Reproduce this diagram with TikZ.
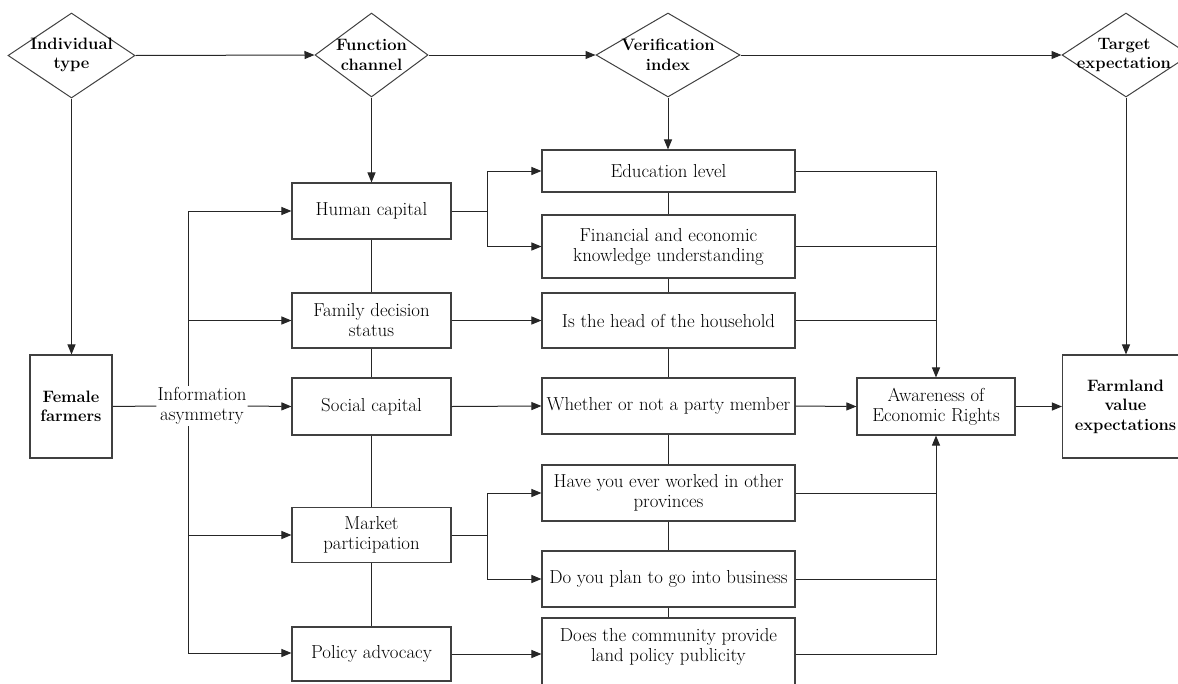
\documentclass[tikz,border=0pt]{standalone}
\usetikzlibrary{shapes.geometric,arrows.meta}
\begin{document}
\begin{tikzpicture}[x=1pt,y=-1pt,
  every node/.style={font=\fontsize{18.8}{20}\selectfont},
  rbox/.style={draw=black!75, line width=1.1pt, align=center, inner sep=0pt},
  dmd/.style={diamond, draw=black!75, line width=1pt, inner sep=0pt},
  bfont/.style={font=\fontsize{16.5}{19.5}\selectfont\bfseries},
  dtext/.style={align=center, bfont, inner sep=0pt},
  conn/.style={draw=black!85, line width=1pt},
  arr/.style={conn, -{Triangle[length=10pt,width=8pt]}}
]
\useasboundingbox (0,0) rectangle (1178,683);
% diamonds
\node[dmd, minimum width=127, minimum height=85] (ind) at (71.5,55.5) {};
\node[dtext] (indt) at (71.5,55) {Individual\\type};
\node[dmd, minimum width=113, minimum height=84] (func) at (371.5,55) {};
\node[dtext] (funct) at (371.5,55) {Function\\channel};
\node[dmd, minimum width=144, minimum height=84] (ver) at (668,55) {};
\node[dtext] (vert) at (668,55) {Verification\\index};
\node[dmd, minimum width=128, minimum height=84] (tar) at (1126,55) {};
\node[dtext] (tart) at (1124,55) {Target\\expectation};
% left
\node[rbox, minimum width=82, minimum height=103, bfont] (fem) at (71,406.5) {Female\\farmers};
% function column
\node[rbox, minimum width=159, minimum height=56] (hc) at (371.5,211) {Human capital};
\node[rbox, minimum width=159, minimum height=55] (fam) at (371.5,320.5) {Family decision\\status};
\node[rbox, minimum width=159, minimum height=57] (soc) at (371.5,406.5) {Social capital};
\node[rbox, minimum width=159, minimum height=55] (mkt) at (371.5,535) {Market\\participation};
\node[rbox, minimum width=159, minimum height=54] (pol) at (371.5,654) {Policy advocacy};
% verification column
\node[rbox, minimum width=253, minimum height=42] (edu) at (668.5,171) {Education level};
\node[rbox, minimum width=253, minimum height=63] (fin) at (668.5,246.5) {Financial and economic\\knowledge understanding};
\node[rbox, minimum width=253, minimum height=55] (head) at (668.5,320.5) {Is the head of the household};
\node[rbox, minimum width=253, minimum height=56] (party) at (668.5,406) {Whether or not a party member};
\node[rbox, minimum width=253, minimum height=56] (work) at (668.5,493) {Have you ever worked in other\\provinces};
\node[rbox, minimum width=253, minimum height=56] (plan) at (668.5,579) {Do you plan to go into business};
\node[rbox, minimum width=253, minimum height=68, text depth=14pt] (comm) at (668.5,652) {Does the community provide\\land policy publicity};
% right
\node[rbox, minimum width=158, minimum height=57] (aw) at (936,406.5) {Awareness of\\Economic Rights};
\node[rbox, minimum width=126, minimum height=103, bfont] (farm) at (1125.5,406.5) {Farmland\\value\\expectations};
% top arrows
\draw[arr] (ind.east) -- (func.west);
\draw[arr] (func.east) -- (ver.west);
\draw[arr] (ver.east) -- (tar.west);
\draw[arr] (ind.south) -- (ind.south |- fem.north);
\draw[arr] (func.south) -- (hc.north);
\draw[arr] (ver.south) -- (ver.south |- edu.north);
\draw[arr] (tar.south) -- (tar.south |- farm.north);
% vertical links
\draw[conn] (hc.south) -- (fam.north);
\draw[conn] (fam.south) -- (soc.north);
\draw[conn] (soc.south) -- (mkt.north);
\draw[conn] (mkt.south) -- (pol.north);
\draw[conn] (edu.south) -- (fin.north);
\draw[conn] (fin.south) -- (head.north);
\draw[conn] (head.south) -- (party.north);
\draw[conn] (party.south) -- (work.north);
\draw[conn] (work.south) -- (plan.north);
\draw[conn] (plan.south) -- (comm.north);
% left bus
\coordinate (bt) at (188,211);
\coordinate (bb) at (188,653);
\draw[conn] (bt) -- (bb);
\node[fill=white, inner sep=1pt, align=center] (info) at (202,406) {Information\\asymmetry};
\draw[conn] (fem.east) -- (info.west);
\draw[arr] (info.east) -- (soc.west);
\draw[arr] (bt) -- (hc.west);
\draw[arr] (bt |- fam.west) -- (fam.west);
\draw[arr] (bt |- mkt.west) -- (mkt.west);
\draw[arr] (bb) -- (bb -| pol.west);
% splits
\coordinate (s1) at (487,211);
\draw[conn] (hc.east) -- (s1);
\draw[arr] (s1) |- (edu.west);
\draw[arr] (s1) |- (fin.west);
\coordinate (s2) at (487,535);
\draw[conn] (mkt.east) -- (s2);
\draw[arr] (s2) |- (work.west);
\draw[arr] (s2) |- (plan.west);
\draw[arr] (fam.east) -- (head.west);
\draw[arr] (soc.east) -- (party.west);
\draw[arr] (pol.east) -- (pol.east -| comm.west);
% right bus
\draw[arr] (edu.east) -| (aw.north);
\draw[conn] (fin.east) -- (fin.east -| aw.north);
\draw[conn] (head.east) -- (head.east -| aw.north);
\draw[arr] (comm.east |- pol.east) -| (aw.south);
\draw[conn] (work.east) -- (work.east -| aw.south);
\draw[conn] (plan.east) -- (plan.east -| aw.south);
\draw[arr] (party.east) -- (aw.west);
\draw[arr] (aw.east) -- (farm.west);
\end{tikzpicture}
\end{document}
